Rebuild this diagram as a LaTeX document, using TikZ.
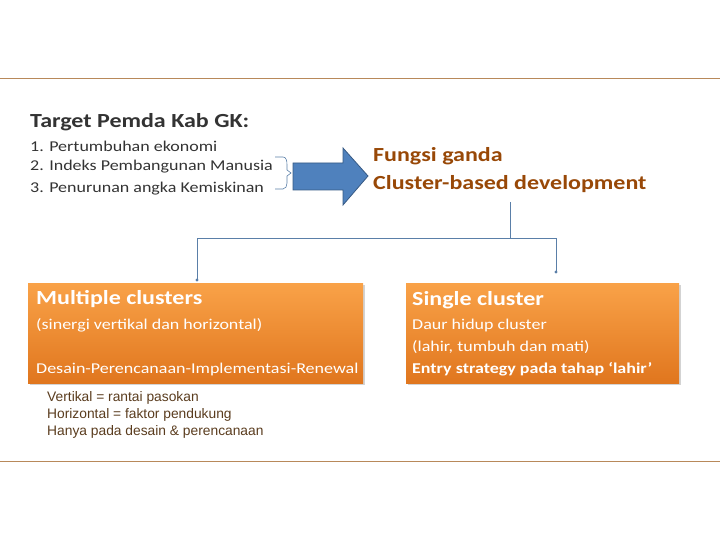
\documentclass[tikz,border=0pt]{standalone}
\usepackage{fontspec}
\setmainfont{Carlito}[FakeStretch=1.2]
\newfontfamily\arialf{Liberation Sans}
\usetikzlibrary{shadows}
\definecolor{rule}{HTML}{B8895A}
\definecolor{brn}{HTML}{984807}
\definecolor{blu}{HTML}{4F81BD}
\definecolor{lnk}{HTML}{5A7FA8}
\definecolor{oTop}{HTML}{F9A248}
\definecolor{oBot}{HTML}{E0761E}
\definecolor{txt}{HTML}{333333}
\begin{document}
\begin{tikzpicture}[x=1pt,y=-1pt,
  box/.style={draw=none,top color=oTop,bottom color=oBot,drop shadow={opacity=0.35,shadow xshift=2pt,shadow yshift=-2pt}},
  wt/.style={anchor=west,text=white,inner sep=0pt},
  bt/.style={anchor=west,text=txt,inner sep=0pt},
  note/.style={anchor=west,inner sep=0pt,text={rgb,255:red,90;green,60;blue,30},font=\arialf\fontsize{13.8}{15}\selectfont},
  link/.style={draw=lnk,line width=0.8pt}]
\useasboundingbox (0,0) rectangle (720,540);
\draw[rule,line width=0.8pt] (0,78) -- (720,78);
\draw[rule,line width=0.8pt] (0,461) -- (720,461);
\node[bt,font=\bfseries\fontsize{20}{22}\selectfont] (t) at (30,122) {Target Pemda Kab GK:};
\node[bt,font=\fontsize{15}{17}\selectfont] (l1) at (30,146) {1. Pertumbuhan ekonomi};
\node[bt,font=\fontsize{15}{17}\selectfont] (l2) at (30,167) {2. Indeks Pembangunan Manusia};
\node[bt,font=\fontsize{15}{17}\selectfont] (l3) at (30,189) {3. Penurunan angka Kemiskinan};
\draw[lnk,line width=0.6pt] (275,157) -- (283,157) to[out=0,in=90] (287,165) -- (287,170) -- (291,173) -- (287,176) -- (287,183) to[out=-90,in=0] (283,189) -- (275,189);
\draw[fill=blu,draw=blu!70!black,line width=0.8pt] (293,163) -- (343,163) -- (343,148) -- (368,176) -- (343,205) -- (343,190) -- (293,190) -- cycle;
\node[anchor=west,inner sep=0pt,text=brn,font=\bfseries\fontsize{20}{22}\selectfont] (f1) at (373,156) {Fungsi ganda};
\node[anchor=west,inner sep=0pt,text=brn,font=\bfseries\fontsize{20}{22}\selectfont] (f2) at (373,184) {Cluster-based development};
\node[box,minimum width=335,minimum height=100,anchor=north west,inner sep=0pt] (A) at (28,283) {};
\node[box,minimum width=273,minimum height=100,anchor=north west,inner sep=0pt] (B) at (406,283) {};
\coordinate (s) at (510,202);
\coordinate (j) at (510,238);
\draw[link] (s) -- (j) -- (197,238) -- (197,280);
\draw[link] (j) -- (556,238) -- (556,272);
\fill[lnk] (197,280) circle (1.6);
\fill[lnk] (556,272) circle (1.6);
\node[wt,font=\bfseries\fontsize{20}{22}\selectfont] (a1) at (36,299) {Multiple clusters};
\node[wt,font=\fontsize{15}{17}\selectfont] (a2) at (36,325) {(sinergi vertikal dan horizontal)};
\node[wt,font=\fontsize{15}{17}\selectfont] (a3) at (36,369) {Desain-Perencanaan-Implementasi-Renewal};
\node[wt,font=\bfseries\fontsize{20}{22}\selectfont] (b1) at (412,300) {Single cluster};
\node[wt,font=\fontsize{15}{17}\selectfont] (b2) at (412,325) {Daur hidup cluster};
\node[wt,font=\fontsize{15}{17}\selectfont] (b3) at (412,347) {(lahir, tumbuh dan mati)};
\node[wt,font=\bfseries\fontsize{15}{17}\selectfont] (b4) at (412,369) {Entry strategy pada tahap ‘lahir’};
\node[note] (n1) at (47,398) {Vertikal = rantai pasokan};
\node[note] (n2) at (47,415) {Horizontal = faktor pendukung};
\node[note] (n3) at (47,432) {Hanya pada desain \& perencanaan};
\end{tikzpicture}
\end{document}
